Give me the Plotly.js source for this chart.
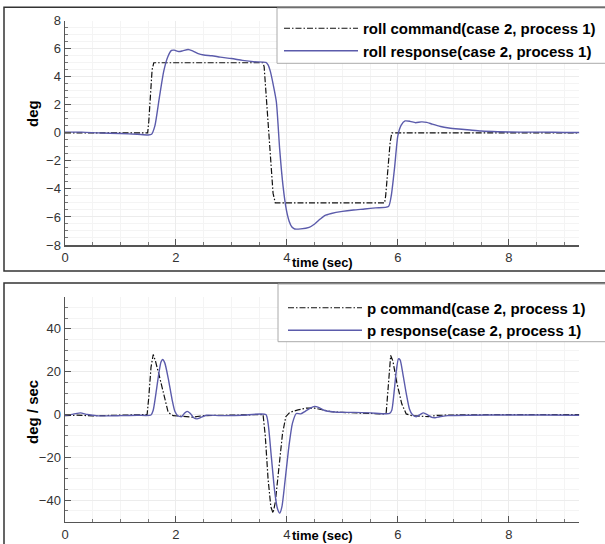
<!DOCTYPE html>
<html>
<head>
<meta charset="utf-8">
<script src="https://cdn.plot.ly/plotly-3.0.1.min.js"></script>
<style>html,body{margin:0;padding:0;background:#fff;}#chart{width:605px;height:544px;}</style>
</head>
<body>
<div id="chart"></div>
<script>
// ---- data ----
const rollCmdT = [0, 1.49, 1.51, 1.54, 1.57, 1.60, 3.57, 3.59, 3.63, 3.69, 3.75, 3.79, 5.76, 5.78, 5.82, 5.86, 5.89, 9.27];
const rollCmd  = [0, 0, 0.8, 3.0, 4.5, 5, 5, 4.7, 2.3, -1.3, -4.3, -5, -5, -4.5, -2.5, -0.7, 0, 0];

const rollRespT = [0, 0.3, 0.6, 1.0, 1.3, 1.5, 1.56, 1.62, 1.70, 1.78, 1.85, 1.92, 1.97, 2.05, 2.12, 2.22, 2.30, 2.40, 2.50, 2.65, 2.80, 3.00, 3.20, 3.40, 3.62, 3.66, 3.70, 3.76, 3.81, 3.87, 3.93, 3.99, 4.04, 4.09, 4.14, 4.25, 4.40, 4.50, 4.60, 4.68, 4.80, 5.00, 5.20, 5.40, 5.60, 5.83, 5.88, 5.94, 6.00, 6.06, 6.13, 6.22, 6.32, 6.42, 6.52, 6.62, 6.77, 6.92, 7.10, 7.30, 7.50, 7.80, 8.20, 8.60, 9.00, 9.27];
const rollResp  = [0.05, 0.05, 0.0, -0.05, -0.1, -0.15, -0.1, 0.5, 2.5, 4.4, 5.4, 5.88, 5.9, 5.8, 5.85, 5.95, 5.85, 5.65, 5.55, 5.5, 5.4, 5.3, 5.17, 5.07, 5.02, 4.85, 4.4, 3.3, 2.2, -1.2, -3.8, -5.5, -6.3, -6.72, -6.86, -6.85, -6.74, -6.5, -6.15, -5.9, -5.75, -5.6, -5.5, -5.43, -5.35, -5.26, -4.5, -2.5, -0.2, 0.55, 0.85, 0.82, 0.72, 0.78, 0.75, 0.62, 0.45, 0.35, 0.27, 0.2, 0.13, 0.08, 0.05, 0.05, 0.03, 0.03];

const pCmdT = [0, 0.2, 0.5, 1.0, 1.3, 1.48, 1.51, 1.55, 1.59, 1.63, 1.70, 1.78, 1.86, 1.95, 2.10, 2.30, 2.50, 3.00, 3.40, 3.57, 3.61, 3.66, 3.71, 3.75, 3.79, 3.85, 3.92, 3.98, 4.05, 4.20, 4.35, 4.50, 4.65, 4.80, 5.00, 5.40, 5.75, 5.79, 5.82, 5.85, 5.87, 5.91, 5.98, 6.07, 6.15, 6.25, 6.40, 6.55, 6.70, 7.00, 8.00, 9.27];
const pCmd  = [-0.5, -0.3, -0.6, -0.4, -0.2, 0, 8, 22, 28, 25, 18, 9, 1, -0.5, -0.8, -1.2, -0.5, -0.2, 0, 0, -10, -30, -43, -46, -41, -25, -9, -1, 1, 2.2, 3, 3, 2.2, 1.3, 1, 0.8, 0.3, 1, 12, 24, 27.6, 25, 15, 5, 0.3, -0.5, -0.6, -1, -0.4, -0.2, 0, 0];

const pRespT = [0, 0.15, 0.28, 0.4, 0.6, 1.0, 1.3, 1.55, 1.59, 1.64, 1.69, 1.73, 1.76, 1.80, 1.86, 1.93, 1.98, 2.03, 2.10, 2.15, 2.20, 2.26, 2.32, 2.38, 2.45, 2.55, 2.80, 3.20, 3.62, 3.66, 3.72, 3.78, 3.83, 3.87, 3.91, 3.97, 4.04, 4.10, 4.17, 4.25, 4.33, 4.42, 4.50, 4.58, 4.67, 4.77, 4.90, 5.20, 5.50, 5.85, 5.89, 5.93, 5.97, 6.01, 6.04, 6.09, 6.15, 6.21, 6.26, 6.33, 6.40, 6.46, 6.53, 6.60, 6.67, 6.75, 6.90, 7.30, 8.00, 8.60, 9.27];
const pResp  = [-0.3, 0.2, 0.8, 0, -0.6, -0.5, -0.3, -0.2, 2, 10, 19, 24.5, 25.7, 24, 17, 7, 1.5, -0.5, -1, 0.5, 1.5, 0.5, -1.5, -2, -1.3, -0.3, -0.5, -0.3, 0, -4, -20, -36, -44, -46, -43, -30, -14, -4, 0.5, 0.3, 1.5, 3, 3.8, 3.2, 2, 1.4, 1.1, 1, 0.8, 0.5, 2, 10, 20, 26, 25.5, 19, 10, 2.5, 0, -1, 0, 0.8, 0, -1.2, -1.5, -1, -0.5, -0.3, -0.2, -0.2, -0.3];

const names = ['roll command(case 2, process 1)', 'roll response(case 2, process 1)',
               'p command(case 2, process 1)', 'p response(case 2, process 1)'];
const xTickVals = [0, 2, 4, 6, 8];

// ---- styling / layout ----
const W = 605, H = 544;
const px = v => v / W;
const py = v => 1 - v / H;
const cmdLine = {color: '#111', width: 1.2, dash: '6px,2px,1.5px,2px'};
const respLine = {color: '#5b5bab', width: 1.4, shape: 'spline', smoothing: 0.6};
const tickFont = {family: 'Arial, "Liberation Sans", sans-serif', size: 13, color: '#333'};
const boldFont = {family: 'Arial, "Liberation Sans", sans-serif', size: 15, color: '#000', weight: 'bold'};

const traces = [
  {x: rollCmdT, y: rollCmd, name: names[0], mode: 'lines', line: cmdLine, xaxis: 'x', yaxis: 'y', legend: 'legend'},
  {x: rollRespT, y: rollResp, name: names[1], mode: 'lines', line: respLine, xaxis: 'x', yaxis: 'y', legend: 'legend'},
  {x: pCmdT, y: pCmd, name: names[2], mode: 'lines', line: cmdLine, xaxis: 'x2', yaxis: 'y2', legend: 'legend2'},
  {x: pRespT, y: pResp, name: names[3], mode: 'lines', line: respLine, xaxis: 'x2', yaxis: 'y2', legend: 'legend2'}
];

function xAx(anchor) {
  return {
    domain: [px(65), px(579.3)], range: [0, 9.27], anchor: anchor,
    tickvals: xTickVals, ticks: 'inside', ticklen: 6, tickcolor: '#555', tickwidth: 1,
    showline: true, linecolor: '#555', linewidth: 1.5, zeroline: false,
    showgrid: true, gridcolor: '#ececec', gridwidth: 1,
    minor: {dtick: 0.5, ticks: 'inside', ticklen: 3, tickcolor: '#777', showgrid: true, gridcolor: '#f4f4f4'},
    tickfont: tickFont, fixedrange: true
  };
}
function yAx(anchor, dom, rng, dt, mdt) {
  return {
    domain: dom, range: rng, anchor: anchor, dtick: dt, tick0: 0,
    ticks: 'inside', ticklen: 6, tickcolor: '#555', tickwidth: 1,
    showline: true, linecolor: '#555', linewidth: 1.5, zeroline: false,
    showgrid: true, gridcolor: '#ececec', gridwidth: 1,
    minor: {dtick: mdt, ticks: 'inside', ticklen: 3, tickcolor: '#777', showgrid: true, gridcolor: '#f4f4f4'},
    tickfont: tickFont, fixedrange: true
  };
}

const layout = {
  width: W, height: H,
  margin: {l: 0, r: 0, t: 0, b: 0},
  paper_bgcolor: '#fff', plot_bgcolor: '#fff',
  showlegend: true,
  xaxis: xAx('y'),
  yaxis: yAx('x', [py(245), py(20.7)], [-8, 8], 2, 0.5),
  xaxis2: xAx('y2'),
  yaxis2: yAx('x2', [py(521.7), py(296.7)], [-50, 55], 20, 5),
  legend: {x: px(279), y: py(12), xanchor: 'left', yanchor: 'top', bgcolor: 'rgba(0,0,0,0)', borderwidth: 0,
           font: boldFont, itemwidth: 74, tracegroupgap: 0},
  legend2: {x: px(283), y: py(291.5), xanchor: 'left', yanchor: 'top', bgcolor: 'rgba(0,0,0,0)', borderwidth: 0,
           font: boldFont, itemwidth: 74, tracegroupgap: 0},
  shapes: [
    {type: 'rect', xref: 'paper', yref: 'paper', x0: px(4), x1: px(612), y0: py(271), y1: py(7.3), line: {color: '#333', width: 1.5}, layer: 'above'},
    {type: 'rect', xref: 'paper', yref: 'paper', x0: px(4), x1: px(612), y0: py(552), y1: py(283), line: {color: '#333', width: 1.5}, layer: 'above'},
    {type: 'rect', xref: 'paper', yref: 'paper', x0: px(277), x1: px(612), y0: py(63.3), y1: py(8), fillcolor: '#fff', line: {color: '#aaa', width: 1}, layer: 'above'},
    {type: 'rect', xref: 'paper', yref: 'paper', x0: px(278), x1: px(612), y0: py(341.7), y1: py(284), fillcolor: '#fff', line: {color: '#aaa', width: 1}, layer: 'above'}
  ],
  annotations: [
    {text: 'deg', xref: 'paper', yref: 'paper', x: px(32), y: py(114), textangle: -90, showarrow: false, font: boldFont, xanchor: 'center', yanchor: 'middle'},
    {text: 'deg / sec', xref: 'paper', yref: 'paper', x: px(32), y: py(412), textangle: -90, showarrow: false, font: boldFont, xanchor: 'center', yanchor: 'middle'},
    {text: 'time (sec)', xref: 'paper', yref: 'paper', x: px(322), y: py(262), showarrow: false, font: {family: boldFont.family, size: 13, color: '#000', weight: 'bold'}, xanchor: 'center', yanchor: 'middle'},
    {text: 'time (sec)', xref: 'paper', yref: 'paper', x: px(322), y: py(535), showarrow: false, font: {family: boldFont.family, size: 13, color: '#000', weight: 'bold'}, xanchor: 'center', yanchor: 'middle'}
  ]
};

Plotly.newPlot('chart', traces, layout, {displayModeBar: false, staticPlot: true});
</script>
</body>
</html>
